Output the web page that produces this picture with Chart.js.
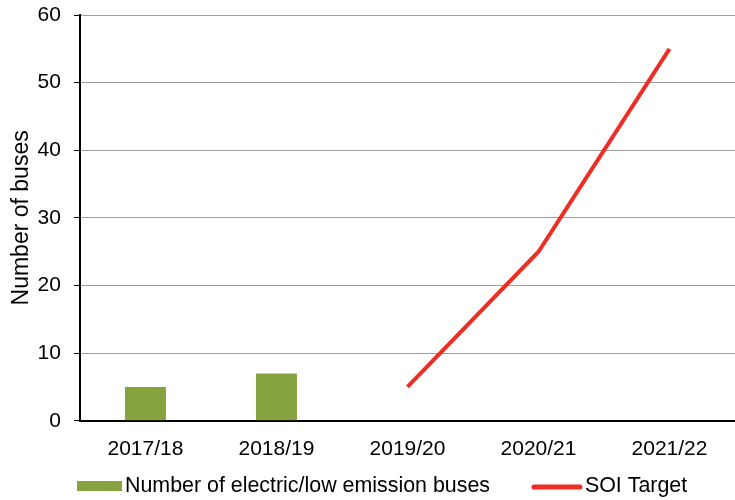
<!DOCTYPE html>
<html>
<head>
<meta charset="utf-8">
<script src="https://cdn.jsdelivr.net/npm/chart.js@4"></script>
<style>
  html, body { margin: 0; padding: 0; background: #fff; }
  #wrap { width: 735px; height: 500px; position: relative; }
</style>
</head>
<body>
<div id="wrap"><canvas id="chart"></canvas></div>
<script>
// Financial years on the x axis
const years = ['2017/18', '2018/19', '2019/20', '2020/21', '2021/22'];
// Electric / low emission buses delivered
const busCounts = [5, 7, null, null, null];
// SOI target trajectory
const soiTarget = [null, null, 5, 25, 55];
// Y axis range
const yMin = 0;
const yMax = 60;
const yStep = 10;

const FONT = '"Liberation Sans", Arial, sans-serif';
const GREEN = '#87A33F';
const RED = '#EE2D24';

// Legend drawn along the bottom edge: coloured box / line followed by its label
const bottomLegend = {
  id: 'bottomLegend',
  afterDraw(chart) {
    const ctx = chart.ctx;
    const ds = chart.data.datasets;
    const y = 486;
    ctx.save();
    ctx.font = '21.4px ' + FONT;
    ctx.textBaseline = 'middle';
    let x = 77;
    // bar series entry
    ctx.fillStyle = ds[0].backgroundColor;
    ctx.fillRect(x, y - 5, 45, 10);
    x += 48;
    ctx.fillStyle = '#000';
    ctx.fillText(ds[0].label, x, y);
    x += ctx.measureText(ds[0].label).width + 42;
    // line series entry
    ctx.strokeStyle = ds[1].borderColor;
    ctx.lineWidth = 5;
    ctx.lineCap = 'round';
    ctx.beginPath();
    ctx.moveTo(x + 2, y + 1);
    ctx.lineTo(x + 48, y + 1);
    ctx.stroke();
    x += 53;
    ctx.fillText(ds[1].label, x, y);
    ctx.restore();
  }
};

new Chart(document.getElementById('chart'), {
  type: 'bar',
  data: {
    labels: years,
    datasets: [
      {
        type: 'bar',
        label: 'Number of electric/low emission buses',
        data: busCounts,
        backgroundColor: GREEN,
        barPercentage: 0.313,
        categoryPercentage: 1,
        order: 2
      },
      {
        type: 'line',
        label: 'SOI Target',
        data: soiTarget,
        borderColor: RED,
        backgroundColor: RED,
        borderWidth: 4,
        pointRadius: 0,
        tension: 0,
        spanGaps: false,
        order: 1
      }
    ]
  },
  options: {
    responsive: true,
    maintainAspectRatio: false,
    animation: false,
    devicePixelRatio: 1,
    layout: { padding: { left: 0, right: 0, top: 15, bottom: 22 } },
    plugins: {
      legend: { display: false },
      tooltip: { enabled: false }
    },
    scales: {
      x: {
        offset: true,
        grid: { display: false, drawTicks: false },
        border: { display: true, color: '#000', width: 2 },
        ticks: { color: '#000', font: { family: FONT, size: 21 }, padding: 16, maxRotation: 0 }
      },
      y: {
        min: yMin,
        max: yMax,
        grid: { color: '#9d9d9d', lineWidth: 1, tickColor: '#000', tickLength: 6 },
        border: { display: true, color: '#000', width: 2 },
        ticks: { stepSize: yStep, color: '#000', font: { family: FONT, size: 21 }, padding: 13 },
        title: {
          display: true,
          text: 'Number of buses',
          color: '#000',
          font: { family: FONT, size: 23 },
          padding: { top: 8, bottom: -11 }
        },
        // plot edges are set by the layout padding alone
        afterFit(scale) { scale.paddingTop = 0; scale.paddingBottom = 0; }
      }
    }
  },
  plugins: [bottomLegend]
});
</script>
</body>
</html>
